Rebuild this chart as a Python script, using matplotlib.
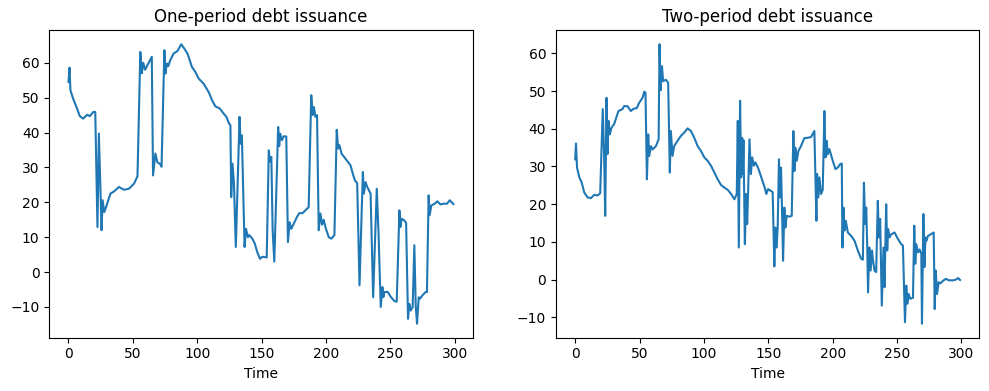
#Debt issuance paths, one-period vs two-period
import numpy as np
import matplotlib
matplotlib.use("Agg")
import matplotlib.pyplot as plt

# values (time, level)
one_period_time = [0, 0.8, 1.5, 3.6, 6.2, 8.8, 11.4, 14.5, 16.6, 19.2, 20.8, 22.5, 23.6, 25.7, 26.5,
                   27.8, 29.6, 32.6, 35.3, 39.2, 43.0, 47.0, 51.0, 53.6, 55.8, 57.0, 58.0, 59.5, 64.7,
                   65.7, 67.5, 69.0, 71.1, 72.3, 74.5, 75.3, 76.4, 77.5, 79.0, 81.6, 84.7, 87.6, 89.9,
                   92.5, 95.9, 98.5, 101.1, 105.0, 108.9, 111.5, 114.1, 117.5, 120.6, 122.7, 124.7,
                   125.8, 126.4, 127.4, 128.5, 130.0, 132.9, 133.7, 134.7, 136.8, 137.9, 139.4, 140.5,
                   142.8, 144.7, 146.7, 148.8, 150.6, 154.0, 155.6, 156.5, 157.6, 158.6, 159.9, 162.9,
                   163.7, 164.5, 165.8, 167.1, 169.2, 170.5, 171.8, 173.1, 174.9, 177.5, 179.3, 181.9,
                   184.0, 186.6, 188.6, 189.7, 190.7, 191.8, 193.1, 194.4, 195.7, 197.0, 198.3, 199.6,
                   202.2, 204.3, 206.6, 208.4, 209.5, 210.5, 212.1, 215.2, 219.1, 220.9, 222.5, 224.3,
                   226.1, 228.7, 229.5, 230.8, 232.1, 234.7, 236.7, 239.5, 240.8, 242.6, 243.9, 244.6,
                   245.4, 248.0, 250.6, 253.2, 255.0, 257.1, 257.8, 258.9, 261.0, 262.3, 263.8, 264.8,
                   265.9, 267.4, 268.7, 269.8, 270.8, 272.1, 273.2, 274.9, 277.5, 278.5, 279.8, 280.6,
                   281.9, 284.5, 286.6, 288.9, 291.5, 294.1, 296.2, 298.2, 299.0]
one_period_debt = [54.5, 58.6, 52.1, 49.7, 47.3, 44.7, 44.0, 45.1, 44.7, 45.9, 45.9, 12.9, 39.7, 12.0, 20.6,
                   17.2, 19.1, 22.5, 23.1, 24.4, 23.6, 23.9, 25.4, 27.5, 63.1, 57.0, 60.0, 58.0, 61.7,
                   27.7, 34.0, 31.5, 31.0, 30.2, 63.6, 56.9, 59.8, 59.0, 60.7, 62.6, 63.4, 65.3, 64.1,
                   62.6, 58.8, 57.4, 55.5, 54.0, 51.6, 49.3, 47.5, 46.9, 45.4, 44.5, 42.6,
                   42.1, 21.5, 31.1, 25.8, 7.2, 44.5, 36.8, 39.2, 7.2, 12.4, 10.0, 10.6,
                   9.6, 8.2, 5.7, 3.8, 4.4, 4.2, 34.9, 31.7, 33.0, 12.0, 3.0, 41.6,
                   36.1, 39.7, 37.8, 38.9, 38.9, 8.6, 14.3, 12.4, 13.8, 15.8, 16.9, 16.9,
                   17.7, 18.6, 50.7, 45.0, 47.3, 44.5, 45.0, 12.0, 16.8, 13.6, 15.0, 12.9,
                   10.0, 9.6, 10.6, 40.8, 35.4, 36.4, 34.0, 32.5, 30.6, 28.2, 26.3, 25.5,
                   -3.8, 28.7, 22.5, 25.8, 24.4, 22.5, -7.2, 23.9, 12.0, -10.0, -4.3, -7.2,
                   -5.7, -5.7, -7.2, -8.3, -8.5, 17.7, 12.9, 15.3, 14.8, 14.1, -13.4, -9.1,
                   -11.0, -10.0, 7.7, -10.0, -14.8, -7.2, -7.6, -6.7, -5.7, -5.7, 22.0, 16.3,
                   19.1, 19.6, 20.3, 19.4, 19.6, 19.6, 20.6, 19.8, 19.5]

two_period_time = [0, 0.6, 1.4, 3.2, 5.0, 7.0, 9.6, 12.2, 14.8, 17.4, 19.4, 21.4, 22.5, 23.3, 24.3, 25.1,
                   25.8, 26.9, 28.2, 30.2, 33.6, 36.7, 38.0, 40.6, 43.2, 45.3, 47.9, 49.7, 52.3, 53.6,
                   54.6, 55.7, 56.7, 57.5, 58.8, 60.1, 62.7, 64.8, 65.5, 66.3, 67.4, 68.3, 70.4, 72.2,
                   73.5, 74.3, 75.6, 76.9, 79.5, 82.1, 84.7, 87.3, 89.9, 92.5, 95.1, 97.7, 100.3,
                   102.9, 105.5, 108.1, 110.7, 113.3, 115.9, 118.5, 121.1, 123.7, 125.5, 126.3, 127.1,
                   128.1, 128.9, 129.7, 130.2, 130.7, 131.8, 132.8, 133.6, 134.4, 135.4, 136.5, 137.5,
                   138.8, 139.9, 142.0, 144.6, 147.2, 148.5, 149.8, 150.8, 153.4, 154.7, 155.5, 156.5,
                   157.3, 158.3, 159.1, 159.9, 160.7, 161.5, 162.5, 163.3, 164.3, 166.4, 168.2, 169.5,
                   170.3, 171.0, 172.1, 173.4, 175.4, 178.0, 180.6, 183.2, 185.8, 187.4, 187.9, 188.9,
                   189.7, 191.0, 192.3, 193.6, 194.4, 195.4, 196.2, 197.5, 200.1, 202.2, 204.0, 205.8,
                   207.1, 207.6, 208.4, 209.2, 210.2, 211.8, 214.4, 217.0, 219.6, 222.2, 223.5, 224.3,
                   225.3, 226.1, 226.9, 227.5, 228.5, 229.5, 230.6, 231.2, 232.5, 233.8, 235.1, 235.9,
                   236.9, 238.2, 239.5, 240.3, 241.6, 242.4, 243.1, 244.2, 245.5, 248.1, 250.7, 253.3,
                   254.6, 256.2, 257.2, 258.0, 259.0, 260.3, 262.4, 263.4, 264.2, 265.0, 266.3, 267.6,
                   268.9, 269.4, 270.5, 271.3, 272.1, 272.8, 274.1, 276.7, 278.5, 279.3, 280.1, 281.1,
                   282.4, 283.7, 285.8, 287.9, 290.5, 293.6, 295.7, 297.5, 299.0]
two_period_debt = [31.9, 36.1, 29.7, 27.1, 25.8, 23.1, 21.8, 21.6, 22.5, 22.3, 22.9, 45.2, 32.4, 16.9, 48.2, 33.3,
                   42.1, 38.5, 40.3, 41.2, 44.7, 45.2, 46.0, 46.0, 44.7, 45.3, 45.5, 46.9, 48.2, 49.8,
                   49.6, 26.6, 38.5, 32.8, 35.4, 34.5, 35.4, 37.2, 62.4, 50.2, 56.6, 52.6, 53.0, 52.2,
                   28.4, 39.4, 32.8, 35.4, 36.8, 38.1, 39.0, 40.1, 39.4, 37.6, 35.4, 34.1, 32.4,
                   31.5, 30.2, 28.4, 26.6, 25.1, 24.4, 23.8, 22.7, 21.3, 22.7, 42.1, 8.5,
                   47.4, 27.1, 37.6, 28.0, 37.0, 9.4, 22.7, 14.7, 24.2, 37.2, 28.0, 32.4,
                   30.2, 31.1, 29.7, 27.1, 24.4, 22.7, 24.0, 23.8, 23.2, 3.5, 13.8, 8.5,
                   13.8, 31.9, 21.8, 29.7, 18.0, 5.0, 19.1, 13.8, 16.9, 16.7, 16.9, 39.4,
                   28.8, 35.0, 31.5, 34.1, 35.4, 37.5, 37.6, 37.8, 39.4, 15.6, 28.0, 21.8,
                   27.1, 22.7, 23.8, 44.7, 32.4, 36.8, 33.2, 34.6, 31.5, 29.3, 29.7, 30.6,
                   30.8, 8.5, 19.1, 13.0, 15.6, 12.5, 11.6, 10.3, 7.7, 5.5, 5.3, 25.7,
                   14.7, 19.1, 8.5, -3.4, 8.5, 2.4, 7.7, 5.5, 2.4, 2.0, 20.9, 11.2,
                   16.1, -6.9, 8.5, -2.0, 20.0, 7.7, 13.4, 11.2, 12.0, 12.5, 10.8, 9.4,
                   9.0, -11.3, -1.6, -6.4, -3.8, -5.1, -4.8, 14.3, 4.2, 9.4, 7.2, 8.0,
                   6.8, -11.7, 17.4, 3.3, 11.2, 10.3, 11.6, 12.1, 12.5, -7.8, 2.4, -3.8,
                   -0.7, -1.0, -0.3, 0.2, -0.2, -0.2, 0.0, 0.4, -0.1]

titles = ["One-period debt issuance", "Two-period debt issuance"]


def plot_debt():
    fig, axes = plt.subplots(1, 2, figsize=(9.89, 3.91))
    fig.subplots_adjust(left=0.0498, right=0.9902, bottom=0.1363, top=0.9225, wspace=0.197)

    axes[0].plot(one_period_time, one_period_debt, color="C0", lw=1.5)
    axes[1].plot(two_period_time, two_period_debt, color="C0", lw=1.5)

    for ax, title in zip(axes, titles):
        ax.set_title(title)
        ax.set_xlabel("Time")
        ax.set_xticks([0, 50, 100, 150, 200, 250, 300])

    fig.savefig("out.png", dpi=100)


plot_debt()
